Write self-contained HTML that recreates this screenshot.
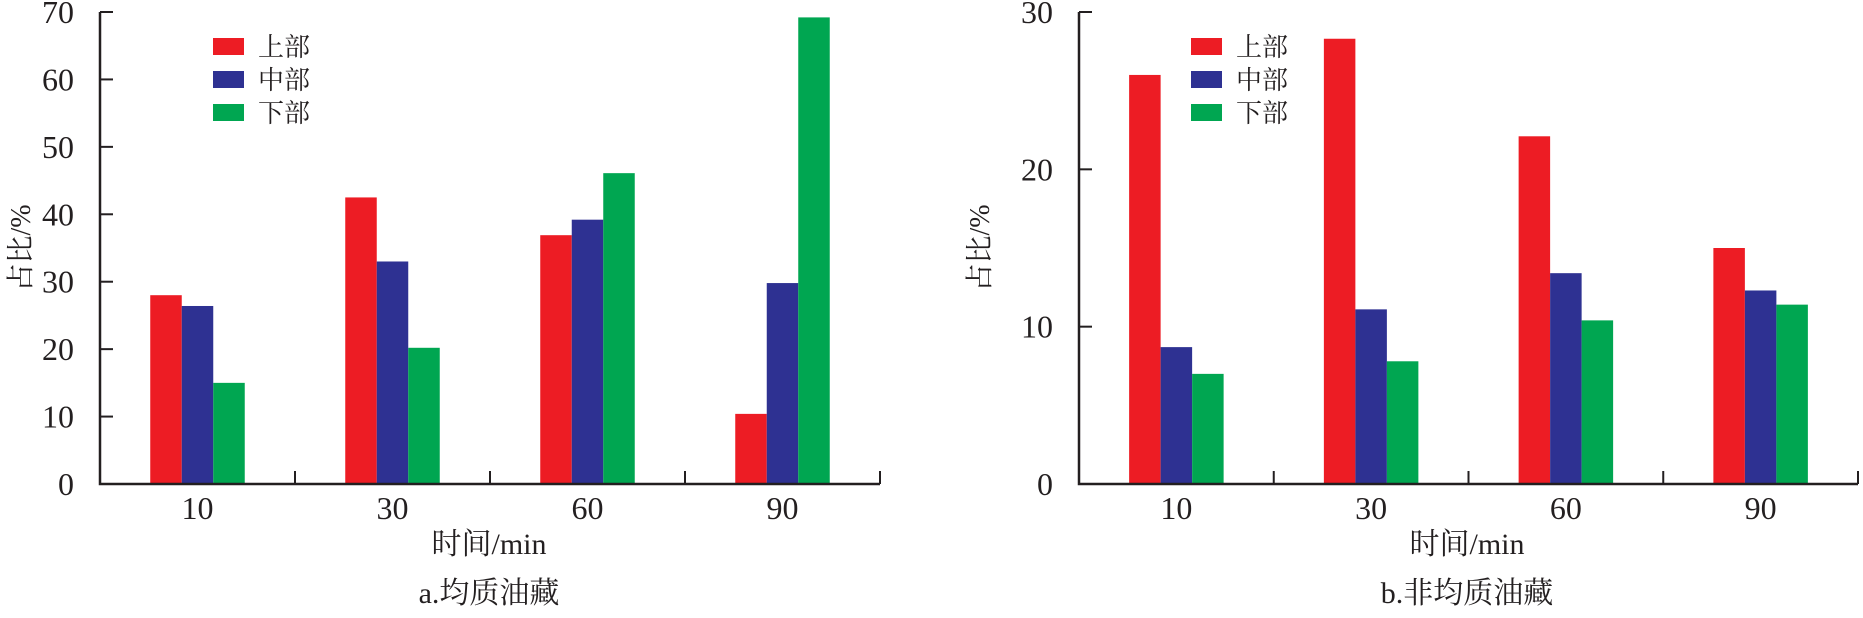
<!DOCTYPE html>
<html><head><meta charset="utf-8"><style>
html,body{margin:0;padding:0;background:#fff;}
svg text{font-family:"Liberation Serif","Noto Serif CJK SC",serif;fill:#231f20;}
</style></head><body>
<svg id="c" width="1863" height="613" viewBox="0 0 1863 613" xmlns="http://www.w3.org/2000/svg"></svg>
<script>
const categories = ["10","30","60","90"];
const seriesNames = ["上部","中部","下部"];
const colors = ["#ed1c24","#2e3192","#00a651"];
const leftTop = [28, 42.5, 36.9, 10.4];
const leftMid = [26.4, 33, 39.2, 29.8];
const leftBot = [15, 20.2, 46.1, 69.2];
const rightTop = [26, 28.3, 22.1, 15];
const rightMid = [8.7, 11.1, 13.4, 12.3];
const rightBot = [7, 7.8, 10.4, 11.4];
const leftTicks = [0,10,20,30,40,50,60,70];
const rightTicks = [0,10,20,30];

const svg = document.getElementById('c');
const NS = 'http://www.w3.org/2000/svg';
function mk(tag, attrs, parent){
  const e = document.createElementNS(NS, tag);
  for (const k in attrs) e.setAttribute(k, attrs[k]);
  (parent||svg).appendChild(e);
  return e;
}
function chart(opt){
  const g = mk('g', {});
  
  
  const x0 = opt.x0, x1 = opt.x1, yTop = 12, yBot = 484;
  const ymax = opt.ticks[opt.ticks.length-1];
  const y = v => yBot - (v/ymax)*(yBot-yTop);
  const cw = (x1-x0)/categories.length;
  const bw = 31.5;
  const data = opt.series;
  data.forEach((arr, s) => {
    arr.forEach((v, i) => {
      const cx = x0 + cw*(i+0.5);
      const r = mk('rect', {x: cx - 1.5*bw + s*bw, y: y(v), width: bw, height: yBot - y(v), fill: colors[s]}, g);
      
      
    });
  });
  // axes
  const ax = mk('path', {d: `M${x0} ${yTop}V${yBot}H${x1}`, stroke: '#231f20', 'stroke-width': 2.5, fill: 'none'}, g);
  
  
  opt.ticks.forEach(t => {
    mk('line', {x1: x0, x2: x0+13, y1: y(t), y2: y(t), stroke: '#231f20', 'stroke-width': 2}, g);
    const tx = mk('text', {x: x0-26, y: y(t)+11, 'font-size': 32, 'text-anchor': 'end'}, g);
    tx.textContent = t;
    
    
  });
  for (let i = 1; i <= categories.length; i++) {
    mk('line', {x1: x0+cw*i, x2: x0+cw*i, y1: yBot, y2: yBot-13, stroke: '#231f20', 'stroke-width': 2}, g);
  }
  categories.forEach((c, i) => {
    const tx = mk('text', {x: x0+cw*(i+0.5), y: 519, 'font-size': 32, 'text-anchor': 'middle'}, g);
    tx.textContent = c;
    
    
  });
  const xt = mk('text', {x: opt.titleX, y: 554, 'font-size': 30, 'text-anchor': 'middle'}, g);
  xt.textContent = '时间/min';
  
  
  const cap = mk('text', {x: opt.titleX, y: 603, 'font-size': 30, 'text-anchor': 'middle'}, g);
  cap.textContent = opt.caption;
  
  
  const yt = mk('text', {x: 0, y: 0, 'font-size': 28, 'text-anchor': 'middle', transform: `translate(${opt.yTitleX},248) rotate(-90)`}, g);
  yt.textContent = '占比/%';
  
  
  seriesNames.forEach((n, s) => {
    const ly = 38 + s*33;
    const sw = mk('rect', {x: opt.legX, y: ly, width: 31, height: 17, fill: colors[s]}, g);
    
    
    const lt = mk('text', {x: opt.legX+45, y: ly+18, 'font-size': 26}, g);
    lt.textContent = n;
    
    
  });
}
chart({name:'chart-homogeneous', x0:100, x1:880, ticks:leftTicks, series:[leftTop,leftMid,leftBot], titleX:489, caption:'a.均质油藏', yTitleX:30, legX:213});
chart({name:'chart-heterogeneous', x0:1079, x1:1858, ticks:rightTicks, series:[rightTop,rightMid,rightBot], titleX:1467, caption:'b.非均质油藏', yTitleX:989, legX:1191});
</script>
</body></html>
